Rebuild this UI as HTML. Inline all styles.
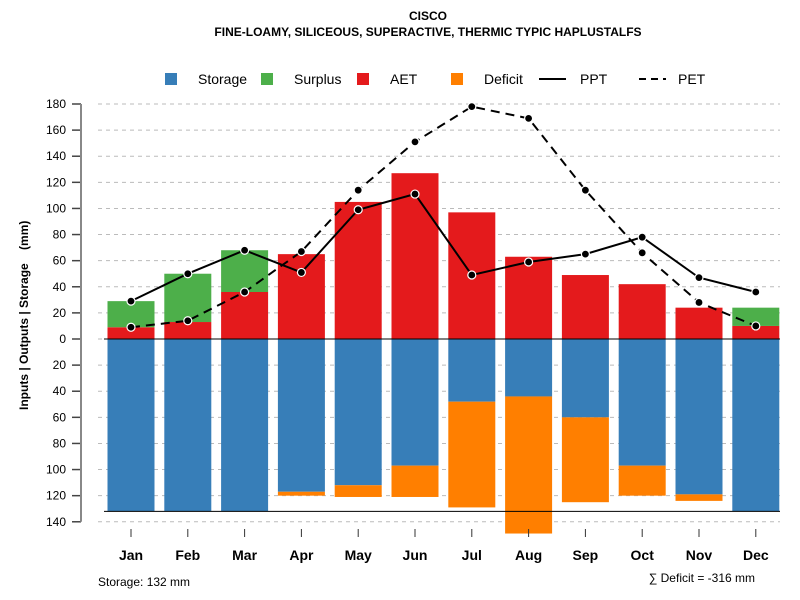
<!DOCTYPE html>
<html><head><meta charset="utf-8"><style>
body{margin:0;background:#fff;}
svg{font-family:"Liberation Sans",Arial,sans-serif;display:block}
</style></head><body>
<svg id="c" width="800" height="600">
<text x="428" y="20" text-anchor="middle" font-size="12" font-weight="bold">CISCO</text>
<text x="428" y="36" text-anchor="middle" font-size="12" font-weight="bold">FINE-LOAMY, SILICEOUS, SUPERACTIVE, THERMIC TYPIC HAPLUSTALFS</text>
<g>
<g><rect x="165" y="73" width="12" height="12" fill="#377eb8"/><text x="198" y="84" font-size="14">Storage</text></g>
<g><rect x="261" y="73" width="12" height="12" fill="#4daf4a"/><text x="294" y="84" font-size="14">Surplus</text></g>
<g><rect x="357" y="73" width="12" height="12" fill="#e41a1c"/><text x="390" y="84" font-size="14">AET</text></g>
<g><rect x="451" y="73" width="12" height="12" fill="#ff7f00"/><text x="484" y="84" font-size="14">Deficit</text></g>
<g><line x1="539" y1="79" x2="566" y2="79" stroke="#000" stroke-width="2"/><text x="580" y="84" font-size="14">PPT</text></g>
<g><line x1="639" y1="79" x2="666" y2="79" stroke="#000" stroke-width="2" stroke-dasharray="7,5"/><text x="678" y="84" font-size="14">PET</text></g>
</g>
<text transform="translate(28,410) rotate(-90)" text-anchor="start" font-size="12" font-weight="bold">Inputs | Outputs | Storage&#160;&#160;&#160;&#160;(mm)</text>
<text x="98" y="586" font-size="12">Storage: 132 mm</text>
<text x="755" y="582" text-anchor="end" font-size="12">∑ Deficit = -316 mm</text>
<g id="g"></g>
</svg>
<script>
const months=["Jan","Feb","Mar","Apr","May","Jun","Jul","Aug","Sep","Oct","Nov","Dec"];
const aet=[9,13,36,65,105,127,97,63,49,42,24,10];
const surplus=[20,37,32,0,0,0,0,0,0,0,0,14];
const storage=[132,132,132,117,112,97,48,44,60,97,119,132];
const deficit=[0,0,0,3,9,24,81,105,65,23,5,0];
const ppt=[29,50,68,51,99,111,49,59,65,78,47,36];
const pet=[9,14,36,67,114,151,178,169,114,66,28,10];
const yTicks=[180,160,140,120,100,80,60,40,20,0,20,40,60,80,100,120,140];
const maxStorage=132;
const NS="http://www.w3.org/2000/svg";
const g=document.getElementById('g');
const y0=339,k=235/180;
const y=v=>y0-v*k;
const x=i=>131+i*56.8;
const bw=47;
function mk(t,a){const e=document.createElementNS(NS,t);for(const n in a)e.setAttribute(n,a[n]);g.appendChild(e);return e;}
for(let j=0;j<yTicks.length;j++){
 const v=j<=9?yTicks[j]:-yTicks[j];
 const yy=y(v);
 const gl=mk('line',{x1:98,x2:780,y1:yy,y2:yy,stroke:'#bbb','stroke-dasharray':'4,4'});
 
 
 const tk=mk('line',{x1:72,x2:81,y1:yy,y2:yy,stroke:'#444','stroke-width':1.5});
 
 
 const tl=mk('text',{x:66,y:yy+4,'text-anchor':'end','font-size':12});
 tl.textContent=yTicks[j];
 
 
}
const ax=mk('line',{x1:81,x2:81,y1:y(180),y2:y(-140),stroke:'#888','stroke-width':2});


for(let i=0;i<12;i++){
 const cx=x(i),l=cx-bw/2;
 let r=mk('rect',{x:l,y:y(aet[i]),width:bw,height:aet[i]*k,fill:'#e41a1c'});
 
 
 if(surplus[i]>0){r=mk('rect',{x:l,y:y(aet[i]+surplus[i]),width:bw,height:surplus[i]*k,fill:'#4daf4a'});
 
 }
 r=mk('rect',{x:l,y:y0,width:bw,height:storage[i]*k,fill:'#377eb8'});
 
 
 if(deficit[i]>0){r=mk('rect',{x:l,y:y(-storage[i]),width:bw,height:deficit[i]*k,fill:'#ff7f00'});
 
 }
 const t=mk('line',{x1:cx,x2:cx,y1:529,y2:537,stroke:'#333'});
 
 
 const tx=mk('text',{x:cx,y:560,'text-anchor':'middle','font-size':14,'font-weight':'bold'});
 tx.textContent=months[i];
 
 
}
let zl=mk('line',{x1:104,x2:780,y1:y0,y2:y0,stroke:'#000'});


zl=mk('line',{x1:104,x2:780,y1:y(-maxStorage),y2:y(-maxStorage),stroke:'#000'});


function series(d,name,dash){
 const p=mk('polyline',{points:d.map((v,i)=>x(i)+','+y(v)).join(' '),fill:'none',stroke:'#000','stroke-width':2,'stroke-dasharray':dash});
 
 
 d.forEach((v,i)=>{const c=mk('circle',{cx:x(i),cy:y(v),r:4,fill:'#000',stroke:'#fff','stroke-width':1.2});
 
 });
}
series(pet,'pet','9,6');
series(ppt,'ppt','none');
</script>
</body></html>
